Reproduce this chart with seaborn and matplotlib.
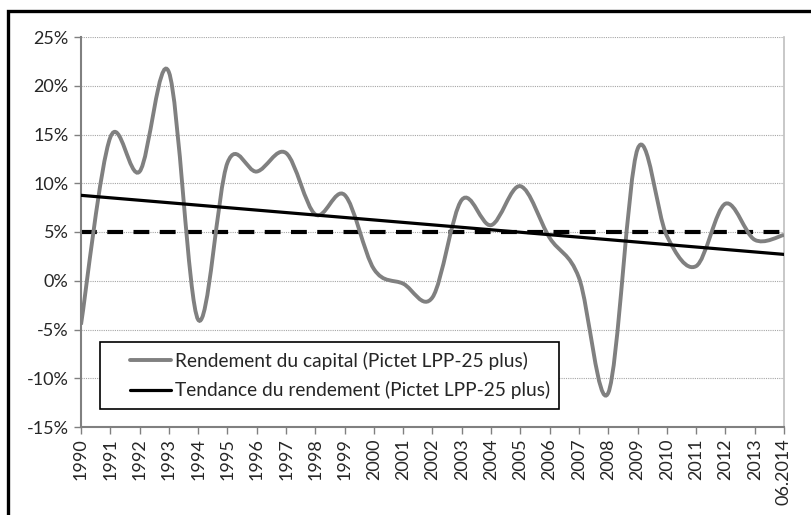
import matplotlib
matplotlib.use("Agg")
import matplotlib.pyplot as plt
from matplotlib.path import Path
from matplotlib.patches import PathPatch, Rectangle
from matplotlib.lines import Line2D
from matplotlib.legend_handler import HandlerLine2D
from matplotlib.ticker import FuncFormatter
import seaborn as sns
import numpy as np
import pandas as pd

# données (rendement annuel en %)
periods = ["1990", "1991", "1992", "1993", "1994", "1995", "1996", "1997",
           "1998", "1999", "2000", "2001", "2002", "2003", "2004", "2005",
           "2006", "2007", "2008", "2009", "2010", "2011", "2012", "2013",
           "06.2014"]
returns = [-4.5, 14.7, 11.2, 21.4, -4.0, 12.1, 11.2, 13.1, 6.8, 8.8,
           1.2, -0.3, -1.7, 8.3, 5.7, 9.7, 4.4, 0.3, -11.5, 13.5,
           4.6, 1.5, 7.9, 4.2, 4.7]
target = 5.0
y_ticks = [-15, -10, -5, 0, 5, 10, 15, 20, 25]

label_capital = "Rendement du capital (Pictet LPP-25 plus)"
label_trend = "Tendance du rendement (Pictet LPP-25 plus)"

df = pd.DataFrame({"pos": np.arange(len(periods)), "periode": periods,
                   "rendement": returns})


class ShortLineHandler(HandlerLine2D):
    """Trait de légende décalé vers le texte, comme dans Excel."""
    def create_artists(self, legend, orig_handle, xdescent, ydescent,
                       width, height, fontsize, trans):
        arts = super().create_artists(legend, orig_handle, xdescent, ydescent,
                                      width, height, fontsize, trans)
        line = arts[0]
        xd = line.get_xdata()
        yd = line.get_ydata()
        x0, x1 = xd[0], xd[-1]
        line.set_data([x0 + 0.33 * (x1 - x0), x1], [yd[0], yd[-1]])
        return arts


sns.set_style("white")
plt.rcParams["font.family"] = ["Lato", "DejaVu Sans"]

fig = plt.figure(figsize=(8.12, 5.15), dpi=100)
ax = fig.add_axes([81 / 812, 1 - 427 / 515, 703 / 812, 390 / 515])

gray = "#808080"

# courbe lissée façon Excel (Bézier cubique, Catmull-Rom)
x = df["pos"].to_numpy(dtype=float)
y = df["rendement"].to_numpy(dtype=float)
verts = [(x[0], y[0])]
codes = [Path.MOVETO]
n = len(x)
for i in range(n - 1):
    x0, y0 = (x[i - 1], y[i - 1]) if i > 0 else (x[i], y[i])
    x3, y3 = (x[i + 2], y[i + 2]) if i + 2 < n else (x[i + 1], y[i + 1])
    c1 = (x[i] + (x[i + 1] - x0) / 6, y[i] + (y[i + 1] - y0) / 6)
    c2 = (x[i + 1] - (x3 - x[i]) / 6, y[i + 1] - (y3 - y[i]) / 6)
    verts += [c1, c2, (x[i + 1], y[i + 1])]
    codes += [Path.CURVE4] * 3
ax.add_patch(PathPatch(Path(verts, codes), facecolor="none", edgecolor=gray,
                       lw=2.8, zorder=3, capstyle="butt"))

# ligne de tendance (régression linéaire)
slope, intercept = np.polyfit(x, y, 1)
trend = pd.DataFrame({"pos": [x[0], x[-1]],
                      "val": [intercept + slope * x[0], intercept + slope * x[-1]]})
sns.lineplot(data=trend, x="pos", y="val", color="black", lw=2.3, ax=ax, zorder=4)

# seuil à 5 %
ref = pd.DataFrame({"pos": [x[0], x[-1]], "val": [target, target]})
sns.lineplot(data=ref, x="pos", y="val", color="black", lw=3, ax=ax, zorder=2)
ax.lines[-1].set_dashes([3.8, 2.5])

ax.set_xlim(0, len(periods) - 1)
ax.set_ylim(-15, 25)
ax.set_xticks(df["pos"])
ax.set_xticklabels(periods, rotation=90, fontsize=13)
ax.set_yticks(y_ticks)
ax.yaxis.set_major_formatter(FuncFormatter(lambda v, p: f"{v:.0f}%"))
ax.tick_params(axis="y", labelsize=13, length=5, width=1, color=gray,
               left=True, pad=4)
ax.tick_params(axis="x", length=5, width=1, color=gray, bottom=True, pad=3)
ax.set_xlabel("")
ax.set_ylabel("")

ax.grid(axis="y", color="#a6a6a6", linestyle=(0, (1, 1)), lw=0.8)
ax.set_axisbelow(True)
for side in ["left", "bottom"]:
    ax.spines[side].set_color(gray)
    ax.spines[side].set_linewidth(1.5)
ax.spines["right"].set_color("#bfbfbf")
ax.spines["right"].set_linewidth(1.2)
ax.spines["top"].set_visible(False)

handles = [Line2D([], [], color=gray, lw=2.8),
           Line2D([], [], color="black", lw=2.3)]
leg = ax.legend(handles, [label_capital, label_trend], loc="lower left",
                bbox_to_anchor=(19 / 703, 18 / 390), borderaxespad=0,
                fontsize=13.8, handlelength=3.2, handletextpad=0.2,
                fancybox=False, framealpha=1, edgecolor="black",
                borderpad=0.5, labelspacing=0.6,
                handler_map={Line2D: ShortLineHandler()})
leg.get_frame().set_linewidth(1.2)

# cadre extérieur du graphique
fig.patches.append(Rectangle((7.5 / 812, -0.1), 1.2, 1 - 10.5 / 515 + 0.1,
                             transform=fig.transFigure, fill=False,
                             edgecolor="black", lw=2.4, zorder=10))

fig.savefig("out.png", dpi=100)
